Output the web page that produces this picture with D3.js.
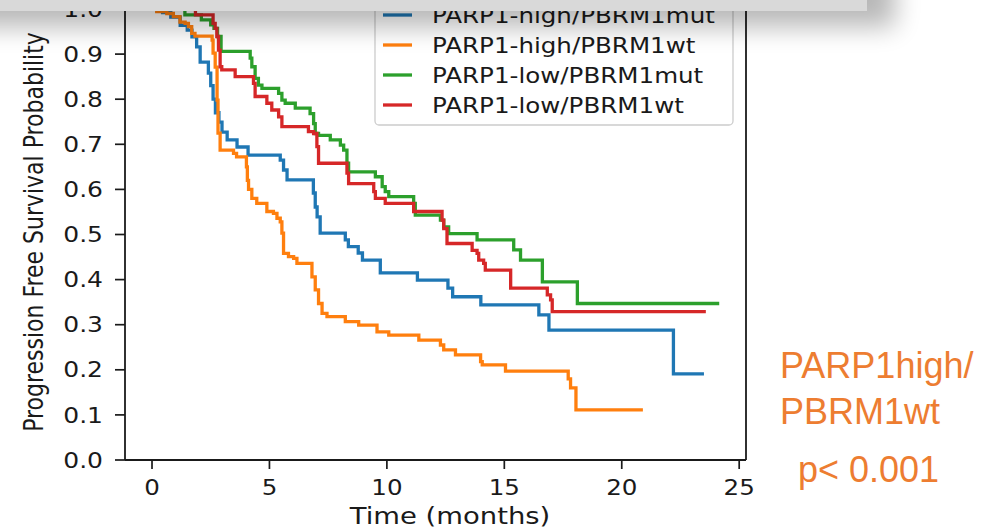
<!DOCTYPE html>
<html>
<head>
<meta charset="utf-8">
<script src="https://cdn.jsdelivr.net/npm/d3@7"></script>
<style>
  html, body { margin: 0; padding: 0; background: #ffffff; }
  svg { display: block; }
</style>
</head>
<body>
<svg id="chart" width="1000" height="529"></svg>
<script>
// Kaplan–Meier progression-free survival, four PARP1 / PBRM1 groups.
// Each group: event times (months), survival after each event, last follow-up time.
const hiMutTime = [0.45, 0.8, 1.2, 1.5, 1.7, 1.9, 2.05, 2.4, 2.5, 2.6, 2.7, 2.85, 2.98, 3.2, 3.62, 4.09, 5.46, 5.6, 5.75, 6.87, 6.95, 7.03, 7.16, 8.23, 8.36, 8.78, 8.96, 9.72, 11.3, 12.6, 12.8, 14.0, 16.47, 16.9, 22.2];
const hiMutSurv = [0.992, 0.982, 0.964, 0.953, 0.938, 0.916, 0.882, 0.858, 0.83, 0.8, 0.77, 0.749, 0.727, 0.71, 0.694, 0.676, 0.665, 0.643, 0.621, 0.592, 0.561, 0.539, 0.503, 0.488, 0.473, 0.459, 0.443, 0.415, 0.399, 0.381, 0.362, 0.344, 0.322, 0.288, 0.191];
const hiMutEnd = 23.5;

const hiWtTime = [0.2, 0.63, 0.91, 1.19, 1.41, 1.55, 1.69, 1.83, 2.56, 2.6, 2.69, 2.77, 2.81, 2.9, 3.47, 3.6, 4.02, 4.06, 4.11, 4.25, 4.46, 4.89, 5.17, 5.32, 5.46, 5.53, 5.6, 5.81, 6.03, 6.17, 6.81, 6.95, 7.09, 7.24, 7.45, 8.23, 8.8, 9.58, 10.08, 11.36, 12.28, 12.42, 12.92, 13.99, 14.06, 15.05, 17.72, 17.82, 18.05];
const hiWtSurv = [0.994, 0.99, 0.983, 0.971, 0.968, 0.961, 0.946, 0.94, 0.931, 0.902, 0.871, 0.798, 0.725, 0.687, 0.68, 0.672, 0.65, 0.62, 0.6, 0.58, 0.569, 0.551, 0.547, 0.536, 0.528, 0.503, 0.458, 0.451, 0.447, 0.436, 0.406, 0.377, 0.347, 0.325, 0.318, 0.307, 0.299, 0.284, 0.277, 0.266, 0.255, 0.244, 0.233, 0.218, 0.211, 0.197, 0.18, 0.16, 0.111];
const hiWtEnd = 20.9;

const loMutTime = [1.4, 2.1, 2.5, 2.64, 2.79, 2.94, 4.18, 4.25, 4.39, 4.53, 4.68, 5.39, 5.53, 5.67, 6.1, 6.73, 6.88, 6.95, 7.09, 7.59, 8.02, 8.16, 8.3, 8.37, 9.51, 9.8, 9.93, 10.08, 11.14, 11.21, 12.28, 12.42, 12.63, 13.84, 15.4, 15.69, 16.62, 18.11];
const loMutSurv = [0.987, 0.976, 0.965, 0.957, 0.939, 0.906, 0.891, 0.872, 0.846, 0.831, 0.824, 0.813, 0.798, 0.791, 0.78, 0.768, 0.746, 0.724, 0.72, 0.71, 0.698, 0.687, 0.658, 0.639, 0.628, 0.606, 0.595, 0.584, 0.569, 0.543, 0.532, 0.517, 0.502, 0.488, 0.466, 0.443, 0.395, 0.347];
const loMutEnd = 24.15;

const loWtTime = [1.85, 2.6, 2.69, 2.76, 2.83, 2.9, 2.97, 3.54, 4.32, 4.39, 4.89, 5.1, 5.39, 5.53, 6.66, 6.88, 7.02, 7.09, 8.3, 8.37, 9.44, 9.51, 9.93, 11.14, 12.35, 12.42, 12.56, 13.63, 13.84, 13.91, 14.12, 14.19, 15.27, 16.83, 16.97, 17.04];
const loWtSurv = [0.987, 0.968, 0.957, 0.939, 0.909, 0.872, 0.865, 0.85, 0.835, 0.806, 0.791, 0.776, 0.761, 0.739, 0.728, 0.724, 0.695, 0.658, 0.636, 0.613, 0.595, 0.58, 0.569, 0.551, 0.532, 0.513, 0.48, 0.465, 0.458, 0.443, 0.436, 0.421, 0.381, 0.366, 0.355, 0.329];
const loWtEnd = 23.58;

const groupNames = ["PARP1-high/PBRM1mut", "PARP1-high/PBRM1wt", "PARP1-low/PBRM1mut", "PARP1-low/PBRM1wt"];
const groupColors = ["#1f77b4", "#ff7f0e", "#2ca02c", "#d62728"];

const xTicks = [0, 5, 10, 15, 20, 25];
const yTicks = [0.0, 0.1, 0.2, 0.3, 0.4, 0.5, 0.6, 0.7, 0.8, 0.9, 1.0];

const xLabel = "Time (months)";
const yLabel = "Progression Free Survival Probability";
const noteLines = ["PARP1high/", "PBRM1wt"];
const pNote = "p< 0.001";

// ---------------------------------------------------------------------------
const svg = d3.select("#chart");
const axisFont = "'DejaVu Sans', sans-serif";
const ink = "#1a1a1a";

const x = d3.scaleLinear().domain([-1.15, 25.29]).range([125, 746]);
const y = d3.scaleLinear().domain([0, 1]).range([460, 9]);

// Horizontally widened text (the figure is rendered with a wide aspect).
function wideText(parent, px, py, str, size, sx, anchor, rot) {
  return parent.append("text")
    .attr("transform", `translate(${px},${py}) scale(${sx},1)` + (rot ? ` rotate(${rot})` : ""))
    .attr("text-anchor", anchor)
    .attr("font-family", axisFont)
    .attr("font-size", size)
    .attr("fill", ink)
    .text(str);
}

const groups = [
  { time: hiMutTime, surv: hiMutSurv, end: hiMutEnd },
  { time: hiWtTime,  surv: hiWtSurv,  end: hiWtEnd  },
  { time: loMutTime, surv: loMutSurv, end: loMutEnd },
  { time: loWtTime,  surv: loWtSurv,  end: loWtEnd  }
];

// Step curves
const line = d3.line().x(d => x(d[0])).y(d => y(d[1])).curve(d3.curveStepAfter);
const plot = svg.append("g");
groups.forEach((g, i) => {
  const pts = [[0, 1]];
  g.time.forEach((t, k) => pts.push([t, g.surv[k]]));
  pts.push([g.end, g.surv[g.surv.length - 1]]);
  plot.append("path")
    .attr("d", line(pts))
    .attr("fill", "none")
    .attr("stroke", groupColors[i])
    .attr("stroke-width", 3.3)
    .attr("stroke-linejoin", "miter");
});

// Spines
const spines = svg.append("g").attr("stroke", ink).attr("stroke-width", 1.8);
spines.append("line").attr("x1", x.range()[0]).attr("x2", x.range()[0]).attr("y1", -20).attr("y2", y(0));
spines.append("line").attr("x1", x.range()[1]).attr("x2", x.range()[1]).attr("y1", -20).attr("y2", y(0));
spines.append("line").attr("x1", x.range()[0]).attr("x2", x.range()[1]).attr("y1", y(0)).attr("y2", y(0));

// X axis ticks + labels
const xAxis = svg.append("g");
xTicks.forEach(t => {
  xAxis.append("line").attr("x1", x(t)).attr("x2", x(t)).attr("y1", y(0)).attr("y2", y(0) + 9)
    .attr("stroke", ink).attr("stroke-width", 1.7);
  wideText(xAxis, x(t), 495, String(t), 21, 1.17, "middle");
});
wideText(svg, 450, 524, xLabel, 22.5, 1.22, "middle");

// Y axis ticks + labels
const yAxis = svg.append("g");
yTicks.forEach(v => {
  yAxis.append("line").attr("x1", x.range()[0] - 10).attr("x2", x.range()[0]).attr("y1", y(v)).attr("y2", y(v))
    .attr("stroke", ink).attr("stroke-width", 1.7);
  wideText(yAxis, 103, y(v) + 7.6, v.toFixed(1), 21, 1.19, "end");
});
wideText(svg, 43, 232, yLabel, 22, 1.22, "middle", -90);

// Legend
const legend = svg.append("g");
legend.append("rect")
  .attr("x", 375).attr("y", -8).attr("width", 358).attr("height", 133)
  .attr("rx", 4).attr("ry", 4)
  .attr("fill", "#ffffff").attr("fill-opacity", 0.8)
  .attr("stroke", "#cccccc").attr("stroke-width", 1.3);
groupNames.forEach((name, i) => {
  const ry = 15 + i * 30;
  legend.append("line").attr("x1", 383).attr("x2", 412).attr("y1", ry).attr("y2", ry)
    .attr("stroke", groupColors[i]).attr("stroke-width", 3.3);
  wideText(legend, 432, ry + 7.6, name, 21, 1.17, "start");
});

// Annotation beside the plot
const note = svg.append("g")
  .attr("font-family", "'Liberation Sans', Arial, sans-serif")
  .attr("font-size", 36)
  .attr("fill", "#ED7D31");
note.append("text").attr("x", 780).attr("y", 378).text(noteLines[0]);
note.append("text").attr("x", 780).attr("y", 424).text(noteLines[1]);
note.append("text").attr("x", 798).attr("y", 482).text(pNote);

// Header bar with soft drop shadow across the top
const defs = svg.append("defs");
defs.append("filter").attr("id", "soft").attr("x", "-20%").attr("y", "-200%").attr("width", "140%").attr("height", "500%")
  .append("feGaussianBlur").attr("stdDeviation", 13);
svg.append("rect")
  .attr("x", -60).attr("y", -60).attr("width", 955).attr("height", 87)
  .attr("fill", "#000000").attr("opacity", 0.28)
  .attr("filter", "url(#soft)");
svg.append("rect")
  .attr("x", 0).attr("y", 0).attr("width", 867).attr("height", 11)
  .attr("fill", "#d9d9d9");
</script>
</body>
</html>
